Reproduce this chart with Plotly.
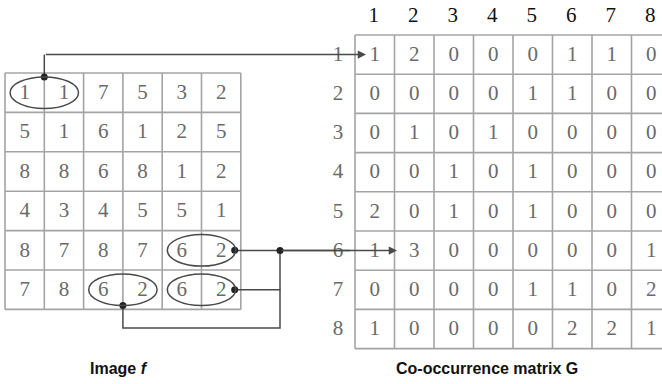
import plotly.graph_objects as go

# ---- data ----
F = [[1, 1, 7, 5, 3, 2],
     [5, 1, 6, 1, 2, 5],
     [8, 8, 6, 8, 1, 2],
     [4, 3, 4, 5, 5, 1],
     [8, 7, 8, 7, 6, 2],
     [7, 8, 6, 2, 6, 2]]
G = [[1, 2, 0, 0, 0, 1, 1, 0],
     [0, 0, 0, 0, 1, 1, 0, 0],
     [0, 1, 0, 1, 0, 0, 0, 0],
     [0, 0, 1, 0, 1, 0, 0, 0],
     [2, 0, 1, 0, 1, 0, 0, 0],
     [1, 3, 0, 0, 0, 0, 0, 1],
     [0, 0, 0, 0, 1, 1, 0, 2],
     [1, 0, 0, 0, 0, 2, 2, 1]]
G_LABELS = ["1", "2", "3", "4", "5", "6", "7", "8"]
PAIRS = [(0, 0), (4, 4), (5, 2), (5, 4)]  # (row, col) of left pixel of circled pairs

# ---- geometry (pixel canvas) ----
W, H = 662, 384
FX0, FY0, FCW, FCH = 5, 73, 39.3, 39.4
GX0, GY0, GCW, GCH = 355, 35, 39.5, 39.2
GRID = "#a4a4a4"
TXT = "#6a6a6a"
LINE = "#4a4a4a"
SERIF = "Liberation Serif"
SANS = "Liberation Sans"

fig = go.Figure()

def grid_trace(x0, y0, cw, ch, nr, nc):
    xs, ys = [], []
    for r in range(nr + 1):
        xs += [x0, x0 + nc * cw, None]
        ys += [y0 + r * ch, y0 + r * ch, None]
    for c in range(nc + 1):
        xs += [x0 + c * cw, x0 + c * cw, None]
        ys += [y0, y0 + nr * ch, None]
    return go.Scatter(x=xs, y=ys, mode="lines", line=dict(color=GRID, width=1.6),
                      hoverinfo="skip", showlegend=False)

fig.add_trace(grid_trace(FX0, FY0, FCW, FCH, len(F), len(F[0])))
fig.add_trace(grid_trace(GX0, GY0, GCW, GCH, len(G), len(G[0])))

def cell_text(x0, y0, cw, ch, M, color):
    xs, ys, ts = [], [], []
    for r, row in enumerate(M):
        for c, v in enumerate(row):
            xs.append(x0 + (c + 0.5) * cw)
            ys.append(y0 + (r + 0.5) * ch + 1)
            ts.append(str(v))
    return go.Scatter(x=xs, y=ys, text=ts, mode="text",
                      textfont=dict(family=SERIF, size=21, color=color),
                      hoverinfo="skip", showlegend=False)

fig.add_trace(cell_text(FX0, FY0, FCW, FCH, F, TXT))
fig.add_trace(cell_text(GX0, GY0, GCW, GCH, G, TXT))

fig.add_trace(go.Scatter(x=[GX0 + (i + 0.5) * GCW - 1 for i in range(len(G_LABELS))],
                         y=[17] * len(G_LABELS), text=G_LABELS, mode="text",
                         textfont=dict(family=SERIF, size=21, color="#111111"),
                         hoverinfo="skip", showlegend=False))
fig.add_trace(go.Scatter(x=[338] * len(G_LABELS),
                         y=[GY0 + (i + 0.5) * GCH + 1 for i in range(len(G_LABELS))],
                         text=G_LABELS, mode="text",
                         textfont=dict(family=SERIF, size=21, color=TXT),
                         hoverinfo="skip", showlegend=False))

RX, RY = 0.87 * FCW, 0.40 * FCH
centers = []
for (r, c) in PAIRS:
    cx = FX0 + (c + 1) * FCW
    cy = FY0 + (r + 0.5) * FCH
    centers.append((cx, cy))
    fig.add_shape(type="circle", xref="x", yref="y", x0=cx - RX, x1=cx + RX,
                  y0=cy - RY, y1=cy + RY, line=dict(color=LINE, width=1.5))

(c0x, c0y), (c1x, c1y), (c2x, c2y), (c3x, c3y) = centers
row1_y = GY0 + 0.5 * GCH
row6_y = GY0 + 5.5 * GCH
JX = 280
LOOP_Y = 328

dots_x = [c0x, c1x + RX - 1, c2x, c3x + RX - 1, JX]
dots_y = [c0y - RY, c1y, c2y + RY, c3y, row6_y]

fig.add_trace(go.Scatter(x=[c0x, c0x, None,
                            c1x + RX, GX0 - 5, None,
                            c3x + RX, JX, JX, c2x, c2x],
                         y=[c0y - RY, row1_y, None,
                            row6_y, row6_y, None,
                            c3y, c3y, LOOP_Y, LOOP_Y, c2y + RY],
                         mode="lines", line=dict(color=LINE, width=1.5),
                         hoverinfo="skip", showlegend=False))
fig.add_trace(go.Scatter(x=[JX, JX], y=[row6_y, c3y], mode="lines",
                         line=dict(color=LINE, width=1.5), hoverinfo="skip", showlegend=False))

fig.add_annotation(x=366, y=row1_y, ax=c0x, ay=row1_y, xref="x", yref="y",
                   axref="x", ayref="y", text="", showarrow=True, arrowhead=2,
                   arrowsize=1.1, arrowwidth=1.5, arrowcolor=LINE)
fig.add_annotation(x=397, y=row6_y, ax=JX, ay=row6_y, xref="x", yref="y",
                   axref="x", ayref="y", text="", showarrow=True, arrowhead=2,
                   arrowsize=1.1, arrowwidth=1.5, arrowcolor=LINE)

fig.add_trace(go.Scatter(x=dots_x, y=dots_y, mode="markers",
                         marker=dict(color="#222222", size=7),
                         hoverinfo="skip", showlegend=False))

fig.add_annotation(x=119, y=368, xref="x", yref="y", showarrow=False,
                   text="<b>Image <i>f</i></b>",
                   font=dict(family=SANS, size=16, color="#111111"))
fig.add_annotation(x=487, y=368, xref="x", yref="y", showarrow=False,
                   text="<b>Co-occurrence matrix G</b>",
                   font=dict(family=SANS, size=16, color="#111111"))

fig.update_layout(width=W, height=H, margin=dict(l=0, r=0, t=0, b=0),
                  paper_bgcolor="white", plot_bgcolor="white",
                  xaxis=dict(range=[0, W], visible=False, fixedrange=True),
                  yaxis=dict(range=[H, 0], visible=False, fixedrange=True))

fig.write_html("out.html", config={"displayModeBar": False, "staticPlot": True},
               post_script="document.body.style.margin='0';document.body.style.overflow='hidden';")
